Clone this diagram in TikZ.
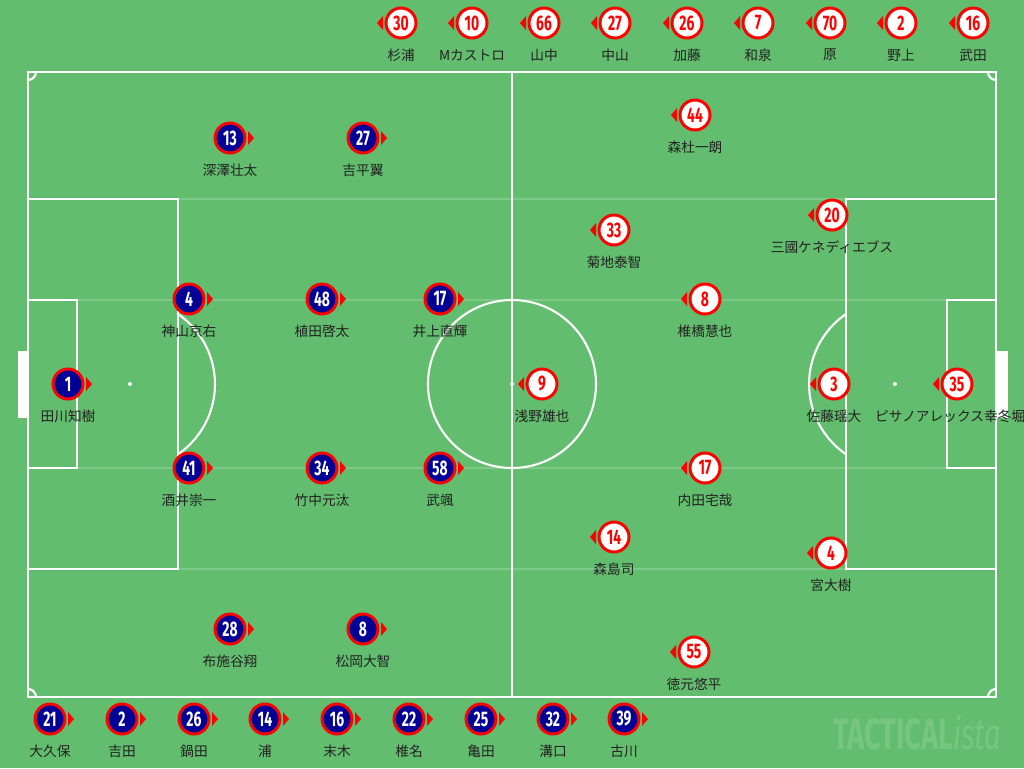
\documentclass[tikz,border=0pt]{standalone}
\usepackage{fontspec}
\usetikzlibrary{calc}
\setmainfont{Noto Sans CJK JP}
\newfontfamily\numfont[FakeStretch=0.66]{Fira Sans}
\definecolor{grass}{HTML}{62BD6E}
\definecolor{navy}{HTML}{000096}
\definecolor{ink}{HTML}{222222}

% player: name, position, number, label
\newcommand{\homeplayer}[4]{%
  \node[homedot] (#1) at (#2) {#3};
  \fill[red] ($(#1)+(18,-7)$) -- ($(#1)+(24,0)$) -- ($(#1)+(18,7)$) -- cycle;
  \node[plname] (#1-name) at ($(#1)+(0,32)$) {#4};}
\newcommand{\awayplayer}[4]{%
  \node[awaydot] (#1) at (#2) {#3};
  \fill[red] ($(#1)+(-18,-7)$) -- ($(#1)+(-24,0)$) -- ($(#1)+(-18,7)$) -- cycle;
  \node[plname] (#1-name) at ($(#1)+(0,32)$) {#4};}

\begin{document}
\begin{tikzpicture}[x=0.02cm,y=-0.02cm,
    pitchline/.style={white,line width=1.2pt},
    guide/.style={white,opacity=0.18,line width=1.2pt},
    homedot/.style={circle,minimum size=0.6cm,inner sep=0pt,draw=red,line width=1.7pt,
      fill=navy,text=white,font=\numfont\bfseries\fontsize{12}{12}\selectfont},
    awaydot/.style={homedot,fill=white,text=red},
    plname/.style={inner sep=0pt,text=ink,font=\fontsize{7.8}{9}\selectfont},
    watermark/.style={inner sep=0pt,text=white,opacity=0.13}]
  \clip (0,0) rectangle (1024,768);
  \fill[grass] (0,0) rectangle (1024,768);
  % faint guides
  \draw[guide] (28,199) -- (996,199);
  \draw[guide] (28,300) -- (996,300);
  \draw[guide] (28,468) -- (996,468);
  \draw[guide] (28,569) -- (996,569);
  % pitch
  \draw[pitchline] (28,72) rectangle (996,697);
  \draw[pitchline] (512,72) -- (512,697);
  \draw[pitchline] (512,384) circle (84);
  \draw[pitchline] (28,199) rectangle (178,569);
  \draw[pitchline] (846,199) rectangle (996,569);
  \draw[pitchline] (28,300) rectangle (77,468);
  \draw[pitchline] (947,300) rectangle (996,468);
  \draw[pitchline] (178,314) arc[start angle=-55.6,end angle=55.6,radius=85];
  \draw[pitchline] (846,314) arc[start angle=235.6,end angle=124.4,radius=85];
  \draw[pitchline] (36,72) arc[start angle=0,end angle=90,radius=8];
  \draw[pitchline] (988,72) arc[start angle=180,end angle=90,radius=8];
  \draw[pitchline] (36,697) arc[start angle=0,end angle=-90,radius=8];
  \draw[pitchline] (988,697) arc[start angle=180,end angle=270,radius=8];
  \fill[white] (18,351) rectangle (28,418);
  \fill[white] (996,351) rectangle (1008,418);
  \fill[white] (130,384) circle (2);
  \fill[white] (512,384) circle (2);
  \fill[white] (895,384) circle (2);
  % home side
  \homeplayer{h1}{68,384}{1}{田川知樹}
  \homeplayer{h4}{189,299}{4}{神山京右}
  \homeplayer{h48}{322,299}{48}{植田啓太}
  \homeplayer{h17}{440,299}{17}{井上直輝}
  \homeplayer{h41}{189,468}{41}{酒井崇一}
  \homeplayer{h34}{322,468}{34}{竹中元汰}
  \homeplayer{h58}{440,468}{58}{武颯}
  \homeplayer{h13}{230,138}{13}{深澤壮太}
  \homeplayer{h27}{363,138}{27}{吉平翼}
  \homeplayer{h28}{230,629}{28}{布施谷翔}
  \homeplayer{h8}{363,629}{8}{松岡大智}
  % home bench
  \homeplayer{hs21}{50,719}{21}{大久保}
  \homeplayer{hs2}{122,719}{2}{吉田}
  \homeplayer{hs26}{194,719}{26}{鍋田}
  \homeplayer{hs14}{265,719}{14}{浦}
  \homeplayer{hs16}{337,719}{16}{末木}
  \homeplayer{hs22}{409,719}{22}{椎名}
  \homeplayer{hs25}{481,719}{25}{亀田}
  \homeplayer{hs32}{553,719}{32}{溝口}
  \homeplayer{hs39}{624,719}{39}{古川}
  % away side
  \awayplayer{a9}{542,384}{9}{浅野雄也}
  \awayplayer{a44}{695,115}{44}{森杜一朗}
  \awayplayer{a33}{614,230}{33}{菊地泰智}
  \awayplayer{a20}{832,215}{20}{三國ケネディエブス}
  \awayplayer{a8}{705,299}{8}{椎橋慧也}
  \awayplayer{a3}{834,384}{3}{佐藤瑶大}
  \awayplayer{a35}{957,384}{35}{ピサノアレックス幸冬堀尾}
  \awayplayer{a17}{705,468}{17}{内田宅哉}
  \awayplayer{a14}{614,537}{14}{森島司}
  \awayplayer{a4}{831,553}{4}{宮大樹}
  \awayplayer{a55}{694,652}{55}{徳元悠平}
  % away bench
  \awayplayer{as30}{401,23}{30}{杉浦}
  \awayplayer{as10}{472,23}{10}{Mカストロ}
  \awayplayer{as66}{544,23}{66}{山中}
  \awayplayer{as27}{615,23}{27}{中山}
  \awayplayer{as26}{687,23}{26}{加藤}
  \awayplayer{as7}{758,23}{7}{和泉}
  \awayplayer{as70}{830,23}{70}{原}
  \awayplayer{as2}{901,23}{2}{野上}
  \awayplayer{as16}{973,23}{16}{武田}
  % logo
  \node[watermark] (logo) at (917,733)
    {\numfont\bfseries\fontsize{25}{25}\selectfont TACTICAL{\mdseries\itshape ista}};
\end{tikzpicture}
\end{document}
